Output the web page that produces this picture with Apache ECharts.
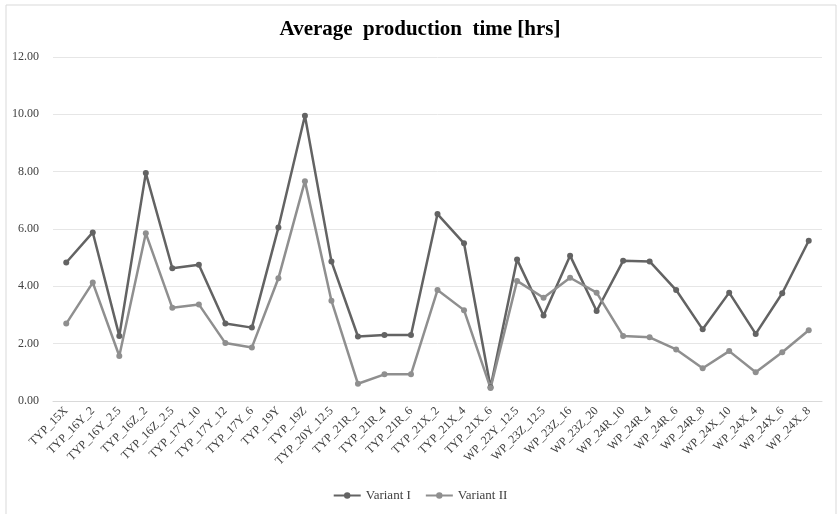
<!DOCTYPE html>
<html>
<head>
<meta charset="utf-8">
<script src="https://cdn.jsdelivr.net/npm/echarts@6/dist/echarts.min.js"></script>
<style>
html,body{margin:0;padding:0;background:#fff;}
#chart{width:840px;height:514px;}
</style>
</head>
<body>
<div id="chart"></div>
<script>
const categories = ["TYP_15X","TYP_16Y_2","TYP_16Y_2.5","TYP_16Z_2","TYP_16Z_2.5","TYP_17Y_10","TYP_17Y_12","TYP_17Y_6","TYP_19Y","TYP_19Z","TYP_20Y_12.5","TYP_21R_2","TYP_21R_4","TYP_21R_6","TYP_21X_2","TYP_21X_4","TYP_21X_6","WP_22Y_12.5","WP_23Z_12.5","WP_23Z_16","WP_23Z_20","WP_24R_10","WP_24R_4","WP_24R_6","WP_24R_8","WP_24X_10","WP_24X_4","WP_24X_6","WP_24X_8"];
const variantI = [4.83,5.88,2.27,7.95,4.63,4.75,2.70,2.56,6.05,9.95,4.87,2.25,2.30,2.30,6.52,5.50,0.48,4.94,2.98,5.07,3.14,4.89,4.87,3.87,2.50,3.78,2.34,3.76,5.59];
const variantII = [2.70,4.13,1.57,5.85,3.25,3.37,2.02,1.87,4.28,7.67,3.50,0.60,0.93,0.93,3.87,3.17,0.45,4.19,3.60,4.30,3.78,2.27,2.22,1.80,1.14,1.74,1.00,1.70,2.47];
const seriesNames = ["Variant I","Variant II"];

const chart = echarts.init(document.getElementById('chart'));
const serif = '"Liberation Serif","Times New Roman",serif';
chart.setOption({
  animation:false,
  backgroundColor:'#fff',
  graphic:[{type:'rect',shape:{x:6,y:5,width:830,height:520},style:{fill:'none',stroke:'#d9d9d9',lineWidth:1},silent:true}],
  title:{text:'Average  production  time [hrs]',left:'center',top:14,textStyle:{fontFamily:serif,fontWeight:'bold',fontSize:21,color:'#000'}},
  legend:{bottom:7,left:'center',itemWidth:27,itemHeight:8,itemGap:14,textStyle:{fontFamily:serif,fontSize:13,color:'#404040'},data:seriesNames},
  grid:{left:53,right:18,top:57,bottom:113},
  xAxis:{type:'category',data:categories,boundaryGap:true,
    axisLine:{lineStyle:{color:'#d9d9d9'}},axisTick:{show:false},
    axisLabel:{rotate:45,interval:0,fontFamily:serif,fontSize:12,color:'#404040',margin:8}},
  yAxis:{type:'value',min:0,max:12,interval:2,
    axisLine:{show:false},axisTick:{show:false},
    splitLine:{lineStyle:{color:'#e6e6e6'}},
    axisLabel:{formatter:v=>v.toFixed(2),fontFamily:serif,fontSize:12,color:'#404040',margin:14}},
  series:[
    {name:seriesNames[0],type:'line',data:variantI,color:'#636363',symbol:'circle',symbolSize:6,lineStyle:{width:2.5,color:'#636363'},itemStyle:{color:'#636363'}},
    {name:seriesNames[1],type:'line',data:variantII,color:'#8f8f8f',symbol:'circle',symbolSize:6,lineStyle:{width:2.5,color:'#8f8f8f'},itemStyle:{color:'#8f8f8f'}}
  ]
});
</script>
</body>
</html>
